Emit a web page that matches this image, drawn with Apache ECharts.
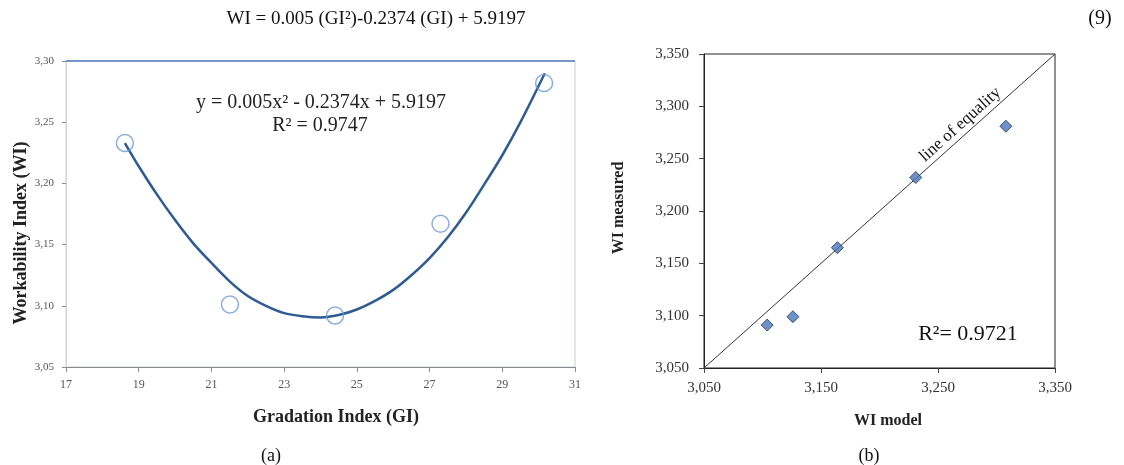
<!DOCTYPE html>
<html>
<head>
<meta charset="utf-8">
<script src="https://cdn.jsdelivr.net/npm/echarts@6/dist/echarts.min.js"></script>
<style>
  html, body { margin: 0; padding: 0; background: #fff; }
  #chart { width: 1124px; height: 465px; }
</style>
</head>
<body>
<div id="chart"></div>
<script>
// (a) measured points
const giA = [18.62, 21.51, 24.40, 27.30, 30.15];
const wiA = [3.233, 3.101, 3.092, 3.167, 3.282];
// (a) polynomial trend line
const fitGI = [18.62, 19.0, 19.5, 20.0, 20.5, 21.0, 21.5, 22.0, 22.5, 23.0, 23.5, 24.0,
               24.5, 25.0, 25.5, 26.0, 26.5, 27.0, 27.5, 28.0, 28.5, 29.0, 29.5, 30.17];
const fitWI = [3.233, 3.214, 3.191, 3.170, 3.151, 3.135, 3.120, 3.108, 3.100, 3.094, 3.0915, 3.0905,
               3.0925, 3.097, 3.104, 3.113, 3.125, 3.139, 3.156, 3.176, 3.199, 3.223, 3.250, 3.290];
const xTicksA = ["17", "19", "21", "23", "25", "27", "29", "31"];
const yTicksA = ["3,05", "3,10", "3,15", "3,20", "3,25", "3,30"];

// (b) model vs measured
const wiModel = [3.104, 3.126, 3.164, 3.231, 3.308];
const wiMeasured = [3.091, 3.099, 3.165, 3.232, 3.281];
const equality = [3.05, 3.35];
const xTicksB = ["3,050", "3,150", "3,250", "3,350"];
const yTicksB = ["3,050", "3,100", "3,150", "3,200", "3,250", "3,300", "3,350"];

const serif = "'Liberation Serif', 'DejaVu Serif', serif";

const chart = echarts.init(document.getElementById("chart"));

const option = {
  animation: false,
  textStyle: { fontFamily: serif },
  grid: [
    { left: 66, top: 61, width: 509, height: 306, show: true, borderColor: "#c3d0e2", borderWidth: 1 },
    { left: 704, top: 54, width: 351, height: 314, show: true, borderColor: "#222", borderWidth: 1 }
  ],
  xAxis: [
    {
      gridIndex: 0, type: "value", min: 17, max: 31, interval: 2,
      axisLine: { lineStyle: { color: "#8c8c8c", width: 1 } },
      axisTick: { show: true, length: 5, lineStyle: { color: "#8c8c8c" } },
      splitLine: { show: false },
      axisLabel: {
        margin: 12, color: "#555", fontSize: 12, fontFamily: serif,
        formatter: v => xTicksA[Math.round((v - 17) / 2)]
      }
    },
    {
      gridIndex: 1, type: "value", min: 3.05, max: 3.35, interval: 0.1,
      axisLine: { lineStyle: { color: "#222", width: 1 } },
      axisTick: { show: true, length: 5, lineStyle: { color: "#444" } },
      splitLine: { show: false },
      axisLabel: {
        margin: 13, color: "#333", fontSize: 15, fontFamily: serif,
        formatter: v => xTicksB[Math.round((v - 3.05) / 0.1)]
      }
    }
  ],
  yAxis: [
    {
      gridIndex: 0, type: "value", min: 3.05, max: 3.30, interval: 0.05,
      axisLine: { show: true, lineStyle: { color: "#d4d4d4", width: 1 } },
      axisTick: { show: true, length: 4, lineStyle: { color: "#8c8c8c" } },
      splitLine: { show: false },
      axisLabel: {
        margin: 12, color: "#555", fontSize: 11, fontFamily: serif,
        formatter: v => yTicksA[Math.round((v - 3.05) / 0.05)]
      }
    },
    {
      gridIndex: 1, type: "value", min: 3.05, max: 3.35, interval: 0.05,
      axisLine: { show: true, lineStyle: { color: "#222", width: 1 } },
      axisTick: { show: true, length: 5, lineStyle: { color: "#444" } },
      splitLine: { show: false },
      axisLabel: {
        margin: 15, color: "#333", fontSize: 15, fontFamily: serif,
        formatter: v => yTicksB[Math.round((v - 3.05) / 0.05)]
      }
    }
  ],
  series: [
    {
      name: "fit",
      type: "line",
      xAxisIndex: 0, yAxisIndex: 0,
      data: fitGI.map((x, i) => [x, fitWI[i]]),
      smooth: 0.3,
      showSymbol: false,
      lineStyle: { color: "#2f5b93", width: 2.5 },
      markLine: {
        silent: true,
        symbol: "none",
        label: { show: false },
        lineStyle: { color: "#4f7db8", width: 1.5, type: "solid" },
        data: [{ yAxis: 3.30 }]
      },
      z: 2
    },
    {
      name: "WI",
      type: "scatter",
      xAxisIndex: 0, yAxisIndex: 0,
      data: giA.map((x, i) => [x, wiA[i]]),
      symbol: "circle",
      symbolSize: 17,
      itemStyle: { color: "rgba(255,255,255,0)", borderColor: "#6d9ad6", borderWidth: 1.5 },
      z: 3
    },
    {
      name: "equality",
      type: "line",
      xAxisIndex: 1, yAxisIndex: 1,
      data: equality.map(v => [v, v]),
      showSymbol: false,
      lineStyle: { color: "#333", width: 1 },
      z: 2
    },
    {
      name: "model",
      type: "scatter",
      xAxisIndex: 1, yAxisIndex: 1,
      data: wiModel.map((x, i) => [x, wiMeasured[i]]),
      symbol: "diamond",
      symbolSize: 12,
      itemStyle: { color: "#4a77ba", borderColor: "#1d3557", borderWidth: 1 },
      z: 3
    }
  ],
  graphic: [
    { type: "text", x: 376, y: 19, style: { text: "WI = 0.005 (GI²)-0.2374 (GI) + 5.9197", font: "19px " + serif, fill: "#111", align: "center", verticalAlign: "middle" } },
    { type: "text", x: 1100, y: 19, style: { text: "(9)", font: "20px " + serif, fill: "#111", align: "center", verticalAlign: "middle" } },
    { type: "text", x: 321, y: 103, style: { text: "y = 0.005x² - 0.2374x + 5.9197", font: "20px " + serif, fill: "#222", align: "center", verticalAlign: "middle" } },
    { type: "text", x: 320, y: 126, style: { text: "R² = 0.9747", font: "20px " + serif, fill: "#222", align: "center", verticalAlign: "middle" } },
    { type: "text", x: 21, y: 233, rotation: Math.PI / 2, style: { text: "Workability Index (WI)", font: "bold 18px " + serif, fill: "#222", align: "center", verticalAlign: "middle" } },
    { type: "text", x: 336, y: 417, style: { text: "Gradation Index (GI)", font: "bold 18px " + serif, fill: "#222", align: "center", verticalAlign: "middle" } },
    { type: "text", x: 271, y: 456, style: { text: "(a)", font: "18px " + serif, fill: "#111", align: "center", verticalAlign: "middle" } },
    { type: "text", x: 619, y: 208, rotation: Math.PI / 2, style: { text: "WI measured", font: "bold 16px " + serif, fill: "#222", align: "center", verticalAlign: "middle" } },
    { type: "text", x: 888, y: 421, style: { text: "WI model", font: "bold 16px " + serif, fill: "#222", align: "center", verticalAlign: "middle" } },
    { type: "text", x: 869, y: 456, style: { text: "(b)", font: "18px " + serif, fill: "#111", align: "center", verticalAlign: "middle" } },
    { type: "text", x: 968, y: 334, style: { text: "R²= 0.9721", font: "22px " + serif, fill: "#111", align: "center", verticalAlign: "middle" } }
  ]
};

chart.setOption(option);

// label along the line of equality
const p0 = chart.convertToPixel({ gridIndex: 1 }, [equality[0], equality[0]]);
const p1 = chart.convertToPixel({ gridIndex: 1 }, [equality[1], equality[1]]);
const pm = chart.convertToPixel({ gridIndex: 1 }, [3.275, 3.275]);
const ang = Math.atan2(p0[1] - p1[1], p1[0] - p0[0]);
chart.setOption({
  graphic: option.graphic.concat([
    { type: "text", x: pm[0], y: pm[1], rotation: ang, style: { text: "line of equality", x: 0, y: -2, font: "17px " + serif, fill: "#111", align: "center", verticalAlign: "bottom" } }
  ])
});
</script>
</body>
</html>
